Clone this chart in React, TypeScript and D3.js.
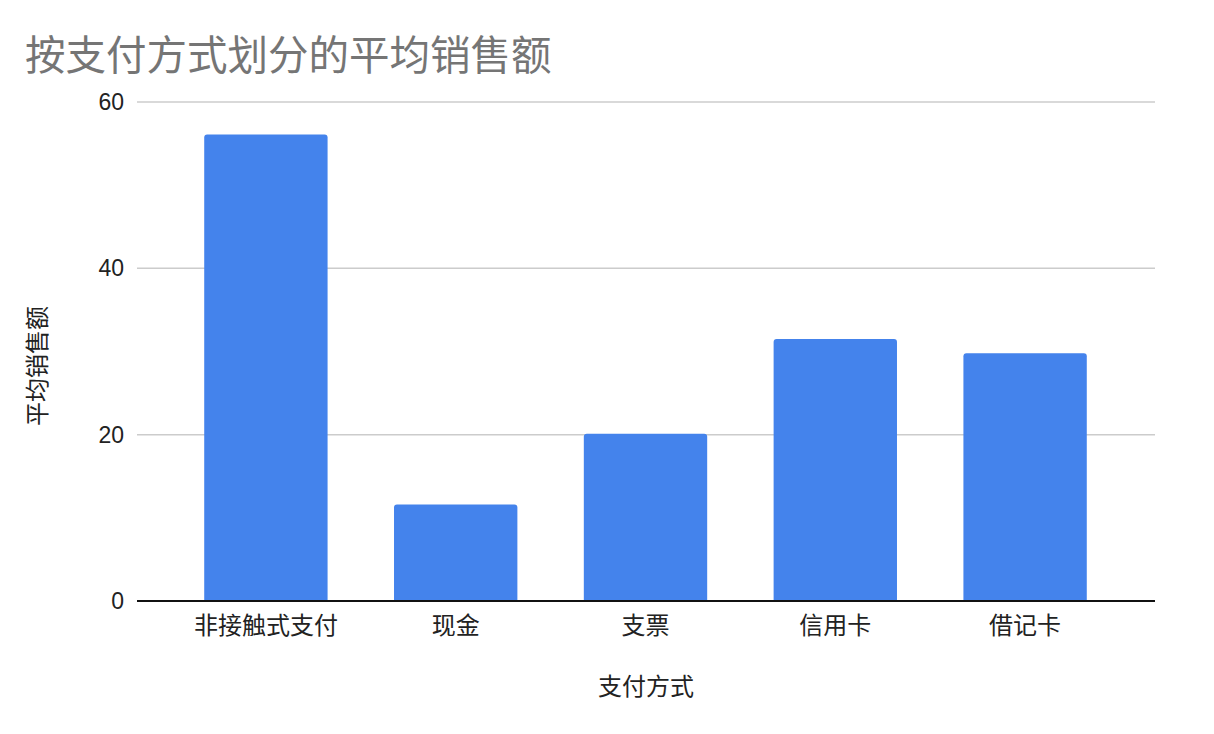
import React, { useEffect, useRef } from 'react';
import * as d3 from 'd3';

const categories = ['非接触式支付', '现金', '支票', '信用卡', '借记卡'];
const avgSales = [56.1, 11.6, 20.1, 31.5, 29.8];
const yTicks = [0, 20, 40, 60];

const chartTitle = '按支付方式划分的平均销售额';
const xTitle = '支付方式';
const yTitle = '平均销售额';

const cjkFont = '"Noto Sans CJK SC", "Noto Sans", sans-serif';
const numFont = '"Liberation Sans", Arial, sans-serif';

const App: React.FC = () => {
  const chartRef = useRef<SVGSVGElement | null>(null);

  useEffect(() => {
    const width = 1214;
    const height = 734;
    const plotLeft = 137;
    const plotRight = 1155;
    const plotTop = 102;
    const plotBottom = 601;

    const svg = d3.select(chartRef.current);
    svg.selectAll('*').remove();
    svg.attr('width', width).attr('height', height);

    svg.append('rect')
      .attr('width', width)
      .attr('height', height)
      .attr('fill', 'white');

    svg.append('text')
      .attr('x', 25)
      .attr('y', 70)
      .style('font-family', cjkFont)
      .style('font-size', '40.5px')
      .style('fill', '#757575')
      .text(chartTitle);

    const y = d3.scaleLinear()
      .domain([0, 60])
      .range([plotBottom, plotTop]);

    const x = d3.scaleBand<string>()
      .domain(categories)
      .range([171, 1120])
      .paddingInner(0.35)
      .paddingOuter(0.175);

    // gridlines
    svg.append('g')
      .selectAll('line')
      .data(yTicks.filter(t => t > 0))
      .enter().append('line')
      .attr('x1', plotLeft)
      .attr('x2', plotRight)
      .attr('y1', d => y(d))
      .attr('y2', d => y(d))
      .attr('stroke', '#cccccc')
      .attr('stroke-width', 1.5);

    // y tick labels
    svg.append('g')
      .selectAll('text')
      .data(yTicks)
      .enter().append('text')
      .attr('x', 124)
      .attr('y', d => y(d))
      .attr('dy', '0.35em')
      .attr('text-anchor', 'end')
      .style('font-family', numFont)
      .style('font-size', '23px')
      .style('fill', '#222')
      .text(d => d);

    // bars with slightly rounded tops
    const r = 3;
    svg.append('g')
      .selectAll('path')
      .data(categories)
      .enter().append('path')
      .attr('d', (d, i) => {
        const x0 = x(d) as number;
        const w = x.bandwidth();
        const top = y(avgSales[i]);
        const bottom = y(0);
        return `M${x0},${bottom} L${x0},${top + r} Q${x0},${top} ${x0 + r},${top} L${x0 + w - r},${top} Q${x0 + w},${top} ${x0 + w},${top + r} L${x0 + w},${bottom} Z`;
      })
      .attr('fill', '#4483ec');

    // baseline
    svg.append('line')
      .attr('x1', plotLeft)
      .attr('x2', plotRight)
      .attr('y1', y(0))
      .attr('y2', y(0))
      .attr('stroke', '#111')
      .attr('stroke-width', 2);

    // x tick labels
    svg.append('g')
      .selectAll('text')
      .data(categories)
      .enter().append('text')
      .attr('x', d => (x(d) as number) + x.bandwidth() / 2)
      .attr('y', 634)
      .attr('text-anchor', 'middle')
      .style('font-family', cjkFont)
      .style('font-size', '24px')
      .style('fill', '#222')
      .text(d => d);

    svg.append('text')
      .attr('x', 646)
      .attr('y', 695)
      .attr('text-anchor', 'middle')
      .style('font-family', cjkFont)
      .style('font-size', '24px')
      .style('fill', '#222')
      .text(xTitle);

    svg.append('text')
      .attr('transform', `translate(46, 366) rotate(-90)`)
      .attr('text-anchor', 'middle')
      .style('font-family', cjkFont)
      .style('font-size', '24px')
      .style('fill', '#222')
      .text(yTitle);
  }, []);

  return (
    <svg ref={chartRef} style={{ position: 'absolute', left: 0, top: 0, display: 'block' }}></svg>
  );
};

export default App;
